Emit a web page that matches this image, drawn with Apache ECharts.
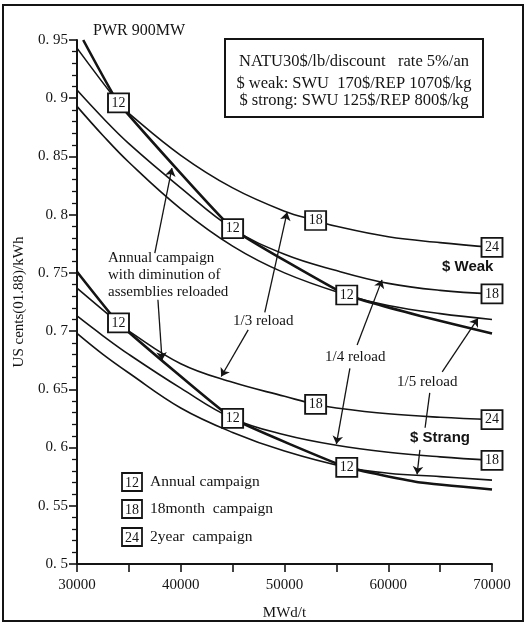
<!DOCTYPE html>
<html><head><meta charset="utf-8">
<script src="https://cdn.jsdelivr.net/npm/echarts@6/dist/echarts.min.js"></script>
<style>html,body{margin:0;padding:0;background:#fff}#chart{width:527px;height:628px}</style>
</head><body><div id="chart"></div>
<script>
// ---- tick labels ----
const xTickLabels = ['30000', '40000', '50000', '60000', '70000'];
const yTickLabels = ['0. 5', '0. 55', '0. 6', '0. 65', '0. 7', '0. 75', '0. 8', '0. 85', '0. 9', '0. 95'];

// ---- $ weak curves [burnup MWd/t, cost US cents/kWh] ----
const weakReload13 = [[30000,0.943],[34000,0.896],[35000,0.887],[40000,0.851],[45000,0.823],[50000,0.803],[53000,0.795],[55000,0.790],[60000,0.781],[65000,0.776],[70000,0.772]];
const weakReload14 = [[30000,0.907],[32500,0.883],[35000,0.861],[40000,0.823],[45000,0.788],[50000,0.766],[55000,0.752],[60000,0.741],[65000,0.735],[70000,0.732]];
const weakReload15 = [[30000,0.893],[32500,0.868],[35000,0.845],[40000,0.805],[45000,0.773],[50000,0.750],[56000,0.731],[60000,0.722],[65000,0.715],[70000,0.710]];
const weakAnnual   = [[30600,0.950],[34000,0.896],[45000,0.788],[56000,0.731],[63100,0.713],[70000,0.698]];

// ---- $ strong curves ----
const strongReload13 = [[30000,0.737],[34000,0.707],[35000,0.700],[40000,0.672],[45000,0.656],[50000,0.644],[53000,0.637],[55000,0.634],[60000,0.629],[65000,0.626],[70000,0.624]];
const strongReload14 = [[30000,0.713],[32500,0.696],[35000,0.680],[40000,0.651],[45000,0.625],[50000,0.611],[55000,0.602],[60000,0.596],[65000,0.592],[70000,0.589]];
const strongReload15 = [[30000,0.698],[32500,0.680],[35000,0.664],[40000,0.634],[45000,0.613],[50000,0.597],[56000,0.583],[60000,0.578],[65000,0.575],[70000,0.572]];
const strongAnnual   = [[30000,0.751],[34000,0.707],[45000,0.625],[56000,0.583],[63100,0.570],[70000,0.564]];

// ---- campaign boxes [burnup, cost, months] ----
const campaignBoxes = [
  [34000,0.896,'12'],[45000,0.788,'12'],[56000,0.731,'12'],[53000,0.795,'18'],[70000,0.732,'18'],[70000,0.772,'24'],
  [34000,0.707,'12'],[45000,0.625,'12'],[56000,0.583,'12'],[53000,0.637,'18'],[70000,0.589,'18'],[70000,0.624,'24']
];

// ---- annotation arrows [from, to, arrowhead] in data units ----
const arrows = [
  [[37500,0.767],[39150,0.840],true],
  [[37800,0.727],[38200,0.675],true],
  [[48100,0.716],[50250,0.802],true],
  [[46500,0.701],[43900,0.661],true],
  [[57000,0.688],[59400,0.744],true],
  [[56300,0.668],[55000,0.603],true],
  [[65200,0.665],[68650,0.711],true],
  [[64000,0.647],[63550,0.617],false],
  [[63050,0.598],[62780,0.577],true]
];

const SERIF = '"Liberation Serif", "DejaVu Serif", serif';
const SANS = '"Liberation Sans", "DejaVu Sans", sans-serif';
const INK = '#141414';

const chart = echarts.init(document.getElementById('chart'), null, {renderer:'canvas'});

function curve(data, w, sm) {
  return {type:'line', data, showSymbol:false, symbol:'none', smooth:sm,
    lineStyle:{color:INK, width:w}, silent:true, z:2};
}

function txt(text, x, y, font, align) {
  return {type:'text', style:{text, x, y, font: font || ('15px ' + SERIF),
    fill:INK, textAlign:align || 'left', textVerticalAlign:'middle'}};
}

function legendBox(x, y, label, text) {
  return [
    {type:'rect', shape:{x:x-10, y:y-9, width:20, height:18}, style:{fill:'#fff', stroke:INK, lineWidth:1.8}},
    txt(label, x, y+1, '14px ' + SERIF, 'center'),
    txt(text, x+18, y, '15.5px ' + SERIF)
  ];
}

const graphics = [
  {type:'rect', shape:{x:3, y:5, width:520, height:616}, style:{fill:'none', stroke:INK, lineWidth:2}, z:-1},
  txt('PWR 900MW', 93, 31, '16px ' + SERIF),
  {type:'rect', shape:{x:225, y:39, width:258, height:78}, style:{fill:'#fff', stroke:INK, lineWidth:2}},
  txt('NATU30$/lb/discount   rate 5%/an', 354, 62, '16.5px ' + SERIF, 'center'),
  txt('$ weak: SWU  170$/REP 1070$/kg', 354, 84, '16.5px ' + SERIF, 'center'),
  txt('$ strong: SWU 125$/REP 800$/kg', 354, 101, '16.5px ' + SERIF, 'center'),
  txt('Annual campaign', 108, 258),
  txt('with diminution of', 108, 275),
  txt('assemblies reloaded', 108, 292),
  txt('1/3 reload', 233, 321),
  txt('1/4 reload', 325, 357),
  txt('1/5 reload', 397, 382),
  txt('$ Weak', 442, 267, 'bold 15px ' + SANS),
  txt('$ Strang', 410, 438, 'bold 15px ' + SANS)
].concat(
  legendBox(132, 482, '12', 'Annual campaign'),
  legendBox(132, 509, '18', '18month  campaign'),
  legendBox(132, 537, '24', '2year  campaign')
);

const option = {
  animation:false,
  backgroundColor:'#fff',
  grid:{left:77, right:35, top:40, bottom:64},
  xAxis:{type:'value', min:30000, max:70000, interval:5000,
    name:'MWd/t', nameLocation:'middle', nameGap:42,
    nameTextStyle:{fontFamily:SERIF, fontSize:15, color:INK},
    axisLine:{show:true, lineStyle:{color:INK, width:2}},
    axisTick:{show:true, length:8, lineStyle:{color:INK, width:1.6}},
    axisLabel:{margin:14, fontFamily:SERIF, fontSize:15, color:INK,
      formatter:v => { const s = String(Math.round(v)); return xTickLabels.indexOf(s) >= 0 ? s : ''; }},
    splitLine:{show:false}},
  yAxis:{type:'value', min:0.5, max:0.95, interval:0.05,
    name:'US cents(01.88)/kWh', nameLocation:'middle', nameGap:50, nameRotate:90,
    nameTextStyle:{fontFamily:SERIF, fontSize:15, color:INK},
    axisLine:{show:true, lineStyle:{color:INK, width:2}},
    axisTick:{show:true, length:8, lineStyle:{color:INK, width:1.6}},
    minorTick:{show:true, splitNumber:5, length:5, lineStyle:{color:INK, width:1.3}},
    axisLabel:{margin:9, fontFamily:SERIF, fontSize:15, color:INK,
      formatter:v => yTickLabels[Math.round((v - 0.5) / 0.05)] || ''},
    splitLine:{show:false}},
  series:[
    curve(weakReload13, 1.6, 0.4), curve(weakReload14, 1.6, 0.4), curve(weakReload15, 1.6, 0.4), curve(weakAnnual, 2.6, 0.1),
    curve(strongReload13, 1.6, 0.4), curve(strongReload14, 1.6, 0.4), curve(strongReload15, 1.6, 0.4), curve(strongAnnual, 2.6, 0.1),
    {type:'line', data:[], silent:true,
      markLine:{silent:true, animation:false, symbol:['none','arrow'], symbolSize:8,
        label:{show:false}, lineStyle:{color:INK, width:1.3, type:'solid'},
        data: arrows.map(a => [
          {coord:a[0], symbol:'none'},
          {coord:a[1], symbol: a[2] ? 'arrow' : 'none'}
        ])}},
    {type:'scatter', data:campaignBoxes, symbol:'rect', symbolSize:[21,19], z:5, silent:true,
      itemStyle:{color:'#fff', borderColor:INK, borderWidth:1.8, opacity:1},
      label:{show:true, position:'inside', formatter:p => p.value[2], fontFamily:SERIF, fontSize:14, color:INK}}
  ],
  graphic: graphics
};
chart.setOption(option);
</script></body></html>
